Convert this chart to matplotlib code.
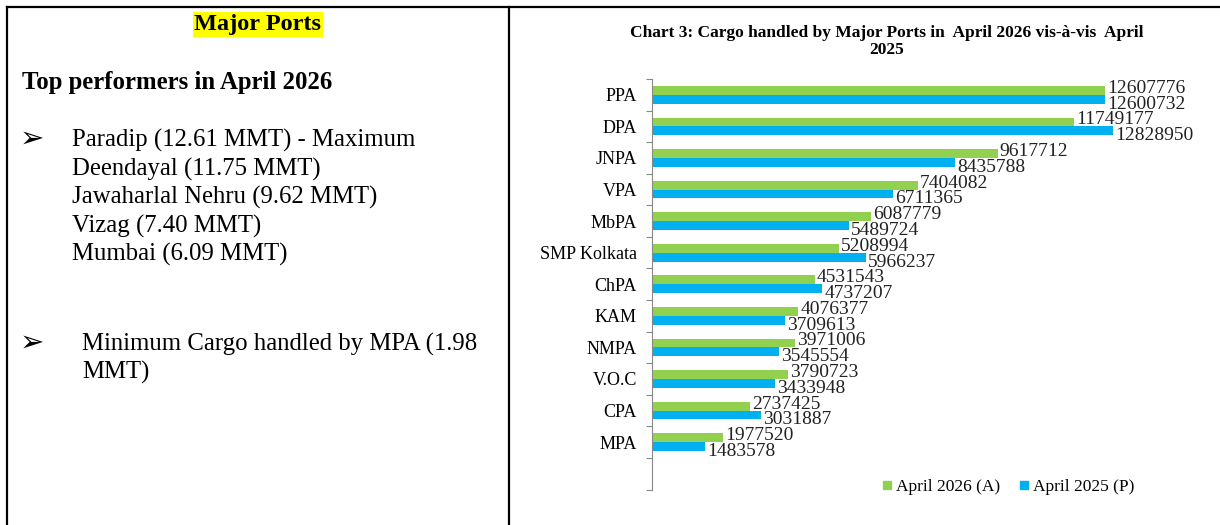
import matplotlib.pyplot as plt
import numpy as np
from matplotlib.lines import Line2D

ports = ["PPA", "DPA", "JNPA", "VPA", "MbPA", "SMP Kolkata", "ChPA", "KAM",
         "NMPA", "V.O.C", "CPA", "MPA"]
april_2026 = [12607776, 11749177, 9617712, 7404082, 6087779, 5208994, 4531543,
              4076377, 3971006, 3790723, 2737425, 1977520]
april_2025 = [12600732, 12828950, 8435788, 6711365, 5489724, 5966237, 4737207,
              3709613, 3545554, 3433948, 3031887, 1483578]

performers = ["Paradip (12.61 MMT) - Maximum", "Deendayal (11.75 MMT)",
              "Jawaharlal Nehru (9.62 MMT)", "Vizag (7.40 MMT)", "Mumbai (6.09 MMT)"]

W, H = 1220, 525
GREEN = "#92D050"
BLUE = "#00B0F0"
SERIF = ["Liberation Serif", "DejaVu Serif"]


def fx(px):
    return px / W


def fy(py):
    return 1 - py / H


fig = plt.figure(figsize=(12.2, 5.25), dpi=100)

# table borders
for xs, ys in [((7, W), (7, 7)), ((7, 7), (7, H)), ((509, 509), (7, H))]:
    fig.add_artist(Line2D([fx(x) for x in xs], [fy(y) for y in ys],
                          transform=fig.transFigure, color="black", lw=1.6))

# left cell text
fig.text(fx(258), fy(30), "Major Ports", family=SERIF, weight="bold",
         fontsize=17.5, ha="center", va="baseline",
         bbox=dict(boxstyle="square,pad=0.08", fc="#FFFF00", ec="none"))
fig.text(fx(22), fy(89), "Top performers in April 2026", family=SERIF,
         weight="bold", fontsize=17.8, ha="left", va="baseline")

fig.text(fx(32), fy(139), "\u27a2", family="DejaVu Sans", fontsize=21,
         ha="center", va="center")
for i, line in enumerate(performers):
    fig.text(fx(72), fy(146.7 + i * 28.5), line, family=SERIF, fontsize=17.8,
             ha="left", va="baseline")

fig.text(fx(32), fy(343), "\u27a2", family="DejaVu Sans", fontsize=21,
         ha="center", va="center")
fig.text(fx(82), fy(350.7), "Minimum Cargo handled by MPA (1.98", family=SERIF,
         fontsize=17.8, ha="left", va="baseline")
fig.text(fx(82), fy(379), "MMT)", family=SERIF, fontsize=17.8, ha="left",
         va="baseline")

# chart
xmax = 15e6
ax_left, ax_top, ax_bot = 652, 79, 489.5
ax_w = xmax * (1105 - 652) / april_2026[0]
ax = fig.add_axes([fx(ax_left), fy(ax_bot), ax_w / W, (ax_bot - ax_top) / H])

y = np.arange(len(ports))
h = 0.28
ax.barh(y - h / 2, april_2026, height=h, color=GREEN, label="April 2026 (A)")
ax.barh(y + h / 2, april_2025, height=h, color=BLUE, label="April 2025 (P)")

for yi, v in zip(y, april_2026):
    ax.annotate(str(v), (v, yi - h / 2), xytext=(2, 2), textcoords="offset pixels",
                family=SERIF, fontsize=14, ha="left", va="center", color="#222222")
for yi, v in zip(y, april_2025):
    ax.annotate(str(v), (v, yi + h / 2), xytext=(2, -5), textcoords="offset pixels",
                family=SERIF, fontsize=14, ha="left", va="center", color="#222222")

ax.set_xlim(0, xmax)
ax.set_ylim(len(ports) + 0.5, -0.5)
ax.set_yticks(y)
ax.set_yticklabels(ports, family=SERIF, fontsize=13)
ax.set_yticks(np.arange(-0.5, len(ports) + 1), minor=True)
ax.tick_params(axis="y", which="major", length=0, pad=11)
ax.tick_params(axis="y", which="minor", length=4.5, width=0.8, color="#888888")
ax.xaxis.set_visible(False)
for s in ["top", "right", "bottom"]:
    ax.spines[s].set_visible(False)
ax.spines["left"].set_color("#888888")
ax.spines["left"].set_linewidth(0.8)

fig.text(fx(887), fy(33), "Chart 3: Cargo handled by Major Ports in  April 2026 vis-\u00e0-vis  April",
         family=SERIF, weight="bold", fontsize=12.5, ha="center", va="center")
fig.text(fx(887), fy(50), "2025", family=SERIF, weight="bold", fontsize=12.5,
         ha="center", va="center")

handles = [Line2D([], [], marker="s", ls="none", color=GREEN, markersize=6),
           Line2D([], [], marker="s", ls="none", color=BLUE, markersize=6)]
fig.legend(handles, ["April 2026 (A)", "April 2025 (P)"], loc="center",
           bbox_to_anchor=(fx(1007), fy(487)), ncol=2, frameon=False,
           prop={"family": SERIF, "size": 12.5}, handletextpad=0.1,
           columnspacing=1.0, handlelength=0.8)

fig.savefig("out.png", dpi=100)
